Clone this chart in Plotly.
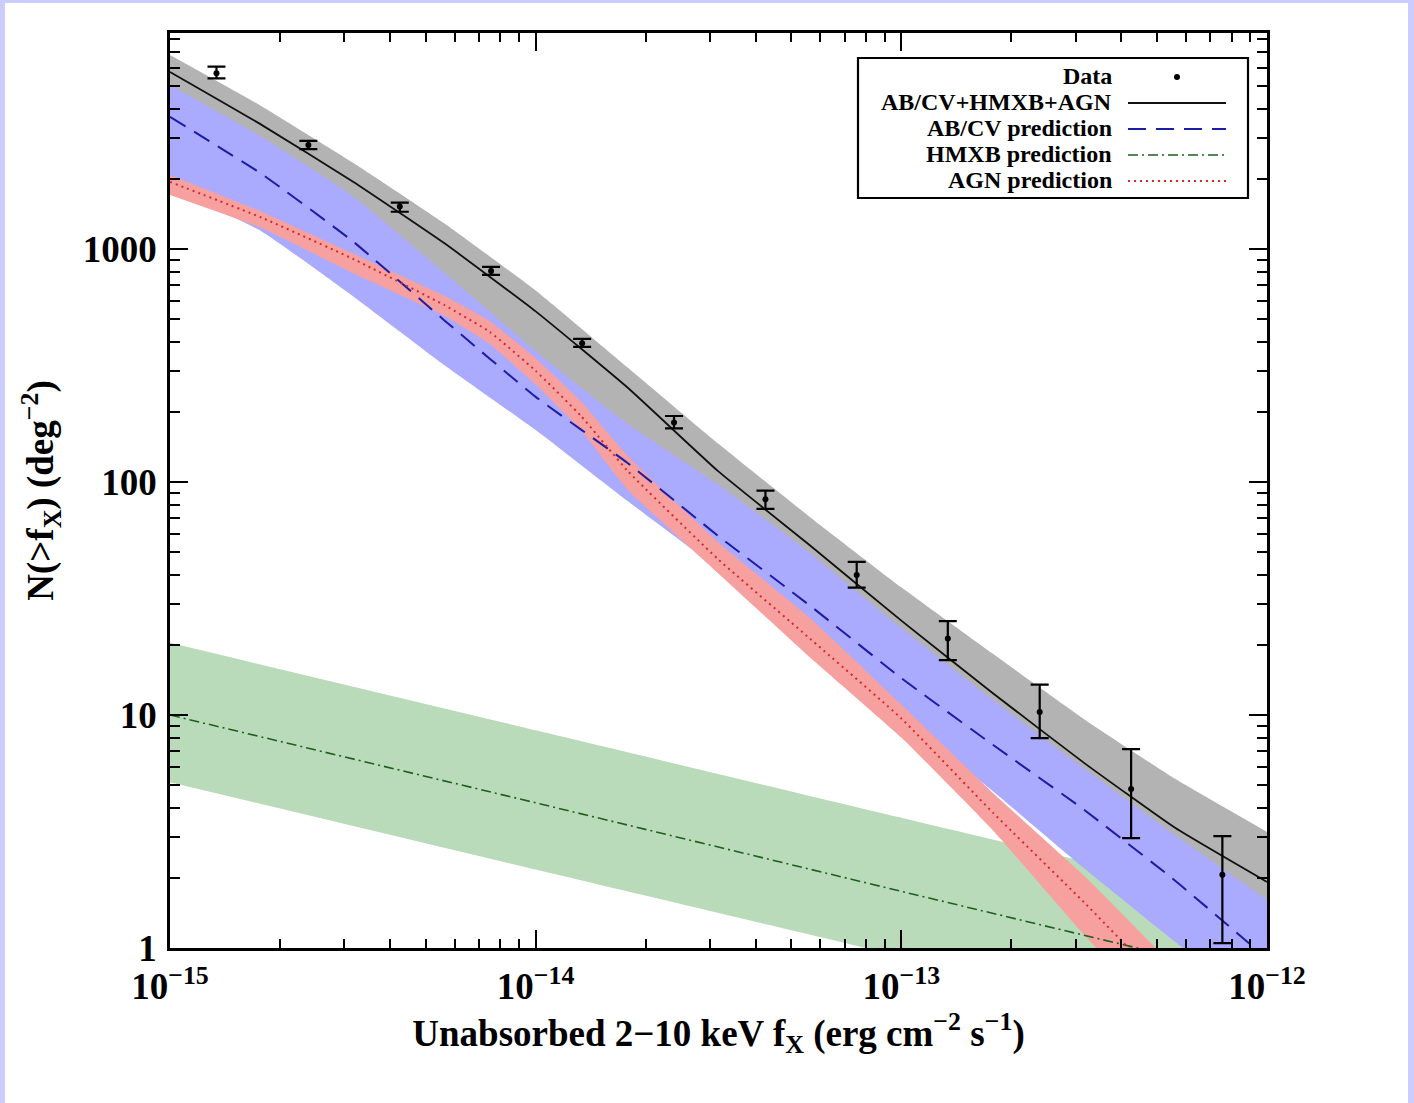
import numpy as np
import plotly.graph_objects as go

# ---- model curves, sampled every 0.25 dex in flux ----
FLUX = [1.0e-15, 1.78e-15, 3.16e-15, 5.62e-15, 1.0e-14, 1.78e-14, 3.16e-14,
        5.62e-14, 1.0e-13, 1.78e-13, 3.16e-13, 5.62e-13, 1.0e-12]

# AB/CV + HMXB + AGN (total)
total_mid = [5750, 3410, 1950, 1060, 540, 255, 111, 53.5, 25.4, 12.4, 6.23, 3.27, 1.92]
total_hi = [6800, 4100, 2350, 1290, 663, 311, 146, 70.8, 35.3, 18.3, 9.6, 5.31, 3.15]
total_lo = [4200, 2500, 1400, 660, 300, 148, 81, 41, 19.6, 9.6, 4.9, 2.5, 1.34]

# AB/CV prediction
abcv_mid = [3690, 2100, 1080, 495, 232, 121, 58.6, 29.5, 14.4, 7.45, 3.92, 1.94, 0.9]
abcv_hi = [5060, 3025, 1690, 793, 365, 178, 97.5, 49.6, 23.6, 11.6, 5.89, 3.04, 1.61]
abcv_lo = [1830, 1190, 629, 318, 167, 83, 42.3, 20.3, 9.8, 4.71, 2.20, 1.06, 0.51]

# AGN prediction (denser sampling around the break)
agn_flux = [1.0e-15, 1.78e-15, 3.16e-15, 5.62e-15, 7.5e-15, 1.0e-14, 1.33e-14, 1.78e-14,
            3.16e-14, 5.62e-14, 1.0e-13, 1.78e-13, 3.16e-13, 5.62e-13, 1.0e-12]
agn_mid = [1940, 1364, 908, 575, 440, 300, 192, 112, 46.5, 21.3, 9.66, 3.81, 1.57, 0.62, 0.25]
agn_hi = [2078, 1445, 957, 630, 490, 340, 222, 130, 55, 26.1, 11.1, 4.63, 2.04, 0.82, 0.33]
agn_lo = [1706, 1230, 789, 518, 390, 262, 167, 93, 40.5, 17.7, 8.0, 3.2, 1.14, 0.44, 0.18]

# HMXB prediction (power law, one point per decade)
hmxb_flux = [1e-15, 1e-14, 1e-13, 1e-12]
hmxb_mid = [10.0, 4.2, 1.75, 0.735]
hmxb_hi = [20.4, 8.6, 3.62, 1.53]
hmxb_lo = [5.15, 2.17, 0.92, 0.39]

# ---- measured cumulative source counts ----
data_flux = [1.34e-15, 2.39e-15, 4.25e-15, 7.55e-15, 1.34e-14, 2.39e-14,
             4.25e-14, 7.55e-14, 1.34e-13, 2.39e-13, 4.25e-13, 7.55e-13]
data_n = [5680, 2795, 1520, 805, 394, 180, 84.3, 39.9, 21.3, 10.3, 4.81, 2.06]
data_hi = [6060, 2910, 1580, 838, 411, 192, 91.8, 45.4, 25.3, 13.5, 7.14, 3.02]
data_lo = [5400, 2684, 1445, 774, 380, 170, 76.6, 35.2, 17.2, 7.95, 2.96, 1.05]

X_TICKS = [1e-15, 1e-14, 1e-13, 1e-12]
X_TICKTEXT = ["10<sup>\u221215</sup>", "10<sup>\u221214</sup>",
              "10<sup>\u221213</sup>", "10<sup>\u221212</sup>"]
Y_TICKS = [1, 10, 100, 1000]
Y_TICKTEXT = ["1", "10", "100", "1000"]

GREY_FILL = "#b3b3b3"
BLUE_FILL = "#aaaaff"
GREEN_FILL = "#b9dbb9"
RED_FILL = "#f7a0a0"
BLUE_LINE = "#1c1ca6"
GREEN_LINE = "#1f5f1f"
RED_LINE = "#d42a2a"
FONT = "Liberation Serif"
SMOOTH = 0.4

fig = go.Figure()


def band(x, lo, hi, color):
    fig.add_trace(go.Scatter(x=x, y=lo, mode="lines",
                             line=dict(width=0, shape="spline", smoothing=SMOOTH),
                             hoverinfo="skip", showlegend=False))
    fig.add_trace(go.Scatter(x=x, y=hi, mode="lines",
                             line=dict(width=0, shape="spline", smoothing=SMOOTH),
                             fill="tonexty", fillcolor=color, hoverinfo="skip", showlegend=False))


band(FLUX, total_lo, total_hi, GREY_FILL)
band(hmxb_flux, hmxb_lo, hmxb_hi, GREEN_FILL)
band(FLUX, abcv_lo, abcv_hi, BLUE_FILL)
band(agn_flux, agn_lo, agn_hi, RED_FILL)

fig.add_trace(go.Scatter(x=hmxb_flux, y=hmxb_mid, mode="lines",
                         line=dict(color=GREEN_LINE, width=1.6, dash="10px,4px,2px,4px"),
                         showlegend=False))
fig.add_trace(go.Scatter(x=FLUX, y=abcv_mid, mode="lines",
                         line=dict(color=BLUE_LINE, width=2, dash="18px,10px",
                                   shape="spline", smoothing=SMOOTH),
                         showlegend=False))
fig.add_trace(go.Scatter(x=agn_flux, y=agn_mid, mode="lines",
                         line=dict(color=RED_LINE, width=2, dash="2px,4px",
                                   shape="spline", smoothing=SMOOTH),
                         showlegend=False))
fig.add_trace(go.Scatter(x=FLUX, y=total_mid, mode="lines",
                         line=dict(color="#111111", width=1.8, shape="spline", smoothing=SMOOTH),
                         showlegend=False))

n = np.array(data_n)
err_plus = np.array(data_hi) - n
err_minus = n - np.array(data_lo)
fig.add_trace(go.Scatter(
    x=data_flux, y=data_n, mode="markers",
    marker=dict(color="black", size=6),
    error_y=dict(type="data", array=err_plus, arrayminus=err_minus, symmetric=False,
                 color="black", thickness=2.2, width=9),
    showlegend=False))

# minor tick positions (2..9 in every decade)
minor_x = [m * 10.0 ** e for e in range(-15, -12) for m in range(2, 10)]
minor_y = [m * 10.0 ** e for e in range(0, 4) for m in range(2, 10)]

tick_font = dict(family=FONT, size=37, color="black", weight="bold")
title_font = dict(family=FONT, size=37, color="black", weight="bold")

fig.update_xaxes(
    type="log", range=[-15, -12],
    tickmode="array", tickvals=X_TICKS, ticktext=X_TICKTEXT,
    ticks="inside", ticklen=18, tickwidth=2, tickcolor="black",
    showline=True, linewidth=2.5, linecolor="black", mirror="ticks",
    showgrid=False, zeroline=False, tickfont=tick_font, ticklabelstandoff=4,
    minor=dict(tickmode="array", tickvals=minor_x, ticks="inside", ticklen=9,
               tickwidth=2, tickcolor="black", showgrid=False),
    title=dict(text="Unabsorbed 2\u221210 keV f<sub>X</sub> (erg cm<sup>\u22122</sup> s<sup>\u22121</sup>)",
               font=title_font, standoff=0),
)
fig.update_yaxes(
    type="log", range=[0, 3.927],
    tickmode="array", tickvals=Y_TICKS, ticktext=Y_TICKTEXT,
    ticks="inside", ticklen=18, tickwidth=2, tickcolor="black",
    showline=True, linewidth=2.5, linecolor="black", mirror="ticks",
    showgrid=False, zeroline=False, tickfont=tick_font, ticklabelstandoff=3,
    minor=dict(tickmode="array", tickvals=minor_y, ticks="inside", ticklen=10,
               tickwidth=2, tickcolor="black", showgrid=False),
    title=dict(text="N(>f<sub>X</sub>) (deg<sup>\u22122</sup>)", font=title_font, standoff=18),
)

# ---- hand-built legend box (labels right-aligned, samples on the right) ----
PW, PH = 1097.0, 915.0


def px(xp):
    return (xp - 170) / PW


def py(yp):
    return (948 - yp) / PH


shapes = [
    # white page inside the lavender border
    dict(type="rect", xref="paper", yref="paper", x0=px(5), x1=px(1408), y0=py(1103), y1=py(3),
         fillcolor="white", line=dict(width=0), layer="below"),
    dict(type="rect", xref="paper", yref="paper", x0=px(858), x1=px(1248), y0=py(198), y1=py(58),
         fillcolor="white", line=dict(color="black", width=2.2)),
]
rows = [76, 102, 128, 154, 180]
labels = ["Data", "AB/CV+HMXB+AGN", "AB/CV prediction", "HMXB prediction", "AGN prediction"]
line_styles = [None,
               dict(color="#111111", width=1.8),
               dict(color=BLUE_LINE, width=2, dash="18px,10px"),
               dict(color=GREEN_LINE, width=1.6, dash="10px,4px,2px,4px"),
               dict(color=RED_LINE, width=2, dash="2px,4px")]
annotations = []
for r, lab, st in zip(rows, labels, line_styles):
    annotations.append(dict(xref="paper", yref="paper", x=px(1113), y=py(r), text=lab,
                            xanchor="right", yanchor="middle", showarrow=False, borderpad=0,
                            font=dict(family=FONT, size=24, color="black", weight="bold")))
    if st is not None:
        shapes.append(dict(type="line", xref="paper", yref="paper", x0=px(1128), x1=px(1226),
                           y0=py(r + 1), y1=py(r + 1), line=st))
shapes.append(dict(type="circle", xref="paper", yref="paper", x0=px(1174), x1=px(1180),
                   y0=py(80), y1=py(74), fillcolor="black", line=dict(width=0)))

fig.update_layout(
    width=1414, height=1103, autosize=False,
    margin=dict(l=170, r=147, t=33, b=155),
    paper_bgcolor="#ccccff", plot_bgcolor="white",
    shapes=shapes, annotations=annotations,
    font=dict(family=FONT, color="black"),
)

fig.write_html("out.html")
